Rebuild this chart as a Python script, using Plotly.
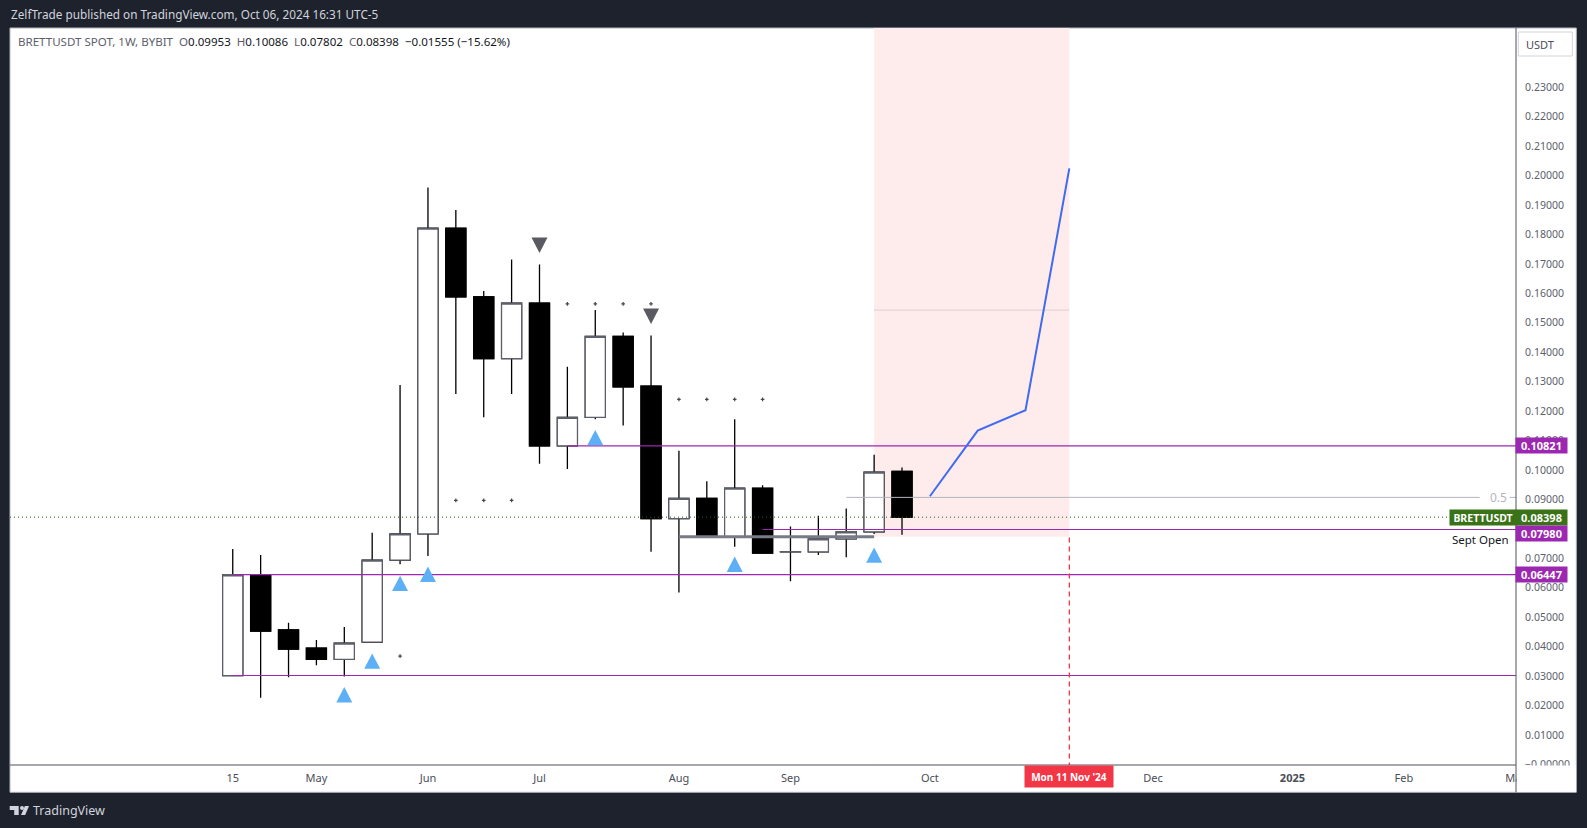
import plotly.graph_objects as go

# ---------- data ----------
dates = ["2024-04-15","2024-04-22","2024-04-29","2024-05-06","2024-05-13","2024-05-20","2024-05-27",
         "2024-06-03","2024-06-10","2024-06-17","2024-06-24","2024-07-01","2024-07-08","2024-07-15",
         "2024-07-22","2024-07-29","2024-08-05","2024-08-12","2024-08-19","2024-08-26","2024-09-02",
         "2024-09-09","2024-09-16","2024-09-23","2024-09-30"]
opens  = [.0302,.0644,.0457,.0395,.0357,.0416,.0694,.0783,.1821,.1588,.1378,.1567,.1082,.1179,.1454,.1285,
          .0835,.0904,.0773,.0938,.0722,.0722,.0766,.0790,.09953]
highs  = [.0732,.0711,.0481,.0423,.0467,.0787,.1289,.1959,.1883,.1608,.1715,.1698,.1351,.1543,.1467,.1457,
          .1065,.0962,.1172,.0948,.0808,.0845,.0869,.1052,.10086]
lows   = [.0300,.0227,.0296,.0337,.0299,.0414,.0680,.0708,.1258,.1179,.1258,.1021,.1003,.1172,.1151,.0722,
          .0584,.0772,.0739,.0717,.0622,.0711,.0704,.0783,.07802]
closes = [.0644,.0453,.0392,.0357,.0412,.0694,.0783,.1821,.1588,.1378,.1567,.1082,.1179,.1454,.1282,.0835,
          .0904,.0773,.0938,.0718,.0723,.0766,.0790,.0993,.08398]

tri_up_x = ["2024-05-13","2024-05-20","2024-05-27","2024-06-03","2024-07-15","2024-08-19","2024-09-23"]
tri_up_y = [.0237,.0351,.0615,.0646,.1110,.0680,.0711]
tri_dn_x = ["2024-07-01","2024-07-29"]
tri_dn_y = [.1763,.1522]
dot_x = ["2024-05-27","2024-06-10","2024-06-17","2024-06-24","2024-07-08","2024-07-15","2024-07-22","2024-07-29",
         "2024-08-05","2024-08-12","2024-08-19","2024-08-26"]
dot_y = [.0368,.0897,.0897,.0897,.1564,.1564,.1564,.1564,.1240,.1240,.1240,.1240]

path_x = ["2024-10-07","2024-10-19","2024-10-31","2024-11-11"]
path_y = [.0911,.1134,.1203,.2024]

x_end = "2025-03-03 03:00"
x_start = "2024-02-19 02:00"
levels = [(.10821,"2024-07-08"),(.07980,"2024-08-26"),(.06447,"2024-04-15"),(.03020,"2024-04-15")]
current_price = .08398
gray_band = .0773
faint_level = .1543
fib_level = .0907
event_start = "2024-09-23"
event_end = "2024-11-11"
y_ticks = [i/100 for i in range(0,24)]
x_tickvals = ["2024-04-15","2024-05-06","2024-06-03","2024-07-01","2024-08-05","2024-09-02","2024-10-07",
              "2024-12-02","2025-01-06","2025-02-03","2025-03-03"]
x_ticktext = ["15","May","Jun","Jul","Aug","Sep","Oct","Dec","<b>2025</b>","Feb","Mar"]

# ---------- layout geometry ----------
W,H = 1587,828
L,R,T,B = 10.3,1515.7,28,765
PR = 1576; PB = 792.3
FONT = "Noto Sans"
def px(x): return (x-L)/(R-L)
def py(y): return (B-y)/(B-T)
def rect(x0,y0,x1,y1,fill,line=None,layer="below",w=1):
    return dict(type="rect",xref="paper",yref="paper",x0=px(x0),x1=px(x1),y0=py(y0),y1=py(y1),
                fillcolor=fill,line=dict(color=line or fill,width=w if line else 0),layer=layer)
def text(x,y,s,color="#131722",size=12,anchor="left",**kw):
    return dict(xref="paper",yref="paper",x=px(x),y=py(y),text=s,showarrow=False,xanchor=anchor,yanchor="middle",
                font=dict(family=FONT,size=size,color=color),**kw)
def tri(x,y,path,color):
    return dict(type="path",xref="x",yref="y",xsizemode="pixel",ysizemode="pixel",xanchor=x,yanchor=y,
                path=path,fillcolor=color,line=dict(width=0),layer="above")

fig = go.Figure()
def hline(x0,x1,y,color,width=1,dash=None):
    fig.add_trace(go.Scatter(x=[x0,x1],y=[y,y],mode="lines",line=dict(color=color,width=width,dash=dash),hoverinfo="skip"))

# behind the candles
for v,start in levels:
    hline(start,x_end,v,"#9c27b0" if v>.0301 else "#8e3a9e",1.1)
hline("2024-08-05","2024-09-23",gray_band,"#787b86",3)
hline(event_start,event_end,faint_level,"#dccfd0")
hline("2024-09-16","2025-02-22",fib_level,"#b2b5be")
hline("2025-03-01 12:00",x_end,fib_level,"#b2b5be")

# wicks + bodies
fig.add_trace(go.Candlestick(x=dates,open=opens,high=highs,low=lows,close=closes,whiskerwidth=0,
    increasing=dict(line=dict(color="#000000",width=1.3),fillcolor="#ffffff"),
    decreasing=dict(line=dict(color="#000000",width=1.3),fillcolor="#000000"),hoverinfo="skip"))
fig.add_trace(go.Candlestick(x=dates,open=opens,close=closes,
    high=[max(o,c) for o,c in zip(opens,closes)],low=[min(o,c) for o,c in zip(opens,closes)],whiskerwidth=0,
    increasing=dict(line=dict(color="#5d606b",width=1.2),fillcolor="#ffffff"),
    decreasing=dict(line=dict(color="#000000",width=1.2),fillcolor="#000000"),hoverinfo="skip"))

# on top
hline(x_start,x_end,current_price,"#2f5a1a",1,"1px,3px")
fig.add_trace(go.Scatter(x=path_x,y=path_y,mode="lines",line=dict(color="#3f6bf2",width=2),hoverinfo="skip"))
fig.add_trace(go.Scatter(x=[event_end,event_end],y=[-.001,gray_band],mode="lines",
                         line=dict(color="#f23645",width=1.3,dash="5px,4px"),hoverinfo="skip"))
fig.add_trace(go.Scatter(x=dot_x,y=dot_y,mode="markers",hoverinfo="skip",
                         marker=dict(symbol="cross",size=3,color="#444650")))

shapes = [
    rect(L,T,PR,PB,"#ffffff","#b2b5be"),
    dict(type="rect",xref="x",yref="paper",x0=event_start,x1=event_end,y0=0,y1=1,fillcolor="#feecec",line=dict(width=0),layer="below"),
    dict(type="rect",xref="x",yref="y",x0=event_start,x1=event_end,y0=-.001,y1=gray_band,fillcolor="#ffffff",line=dict(width=0),layer="below"),
    rect(R+.5,B+.5,PR-.5,PB-.5,"#ffffff",layer="above"),
    dict(type="line",xref="paper",yref="paper",x0=0,x1=px(R),y0=0,y1=0,line=dict(color="#50535e",width=1),layer="above"),
    dict(type="line",xref="paper",yref="paper",x0=1,x1=1,y0=1,y1=py(PB),line=dict(color="#50535e",width=1),layer="above"),
    dict(type="rect",xref="paper",yref="paper",x0=px(1518),x1=px(1572),y0=py(32),y1=py(56),fillcolor="#ffffff",
         line=dict(color="#d1d4dc",width=1),layer="above"),
    # TradingView mark
    rect(10,806,19,810,"#d1d4dc",layer="above"),
    rect(14.5,810,19,815,"#d1d4dc",layer="above"),
    dict(type="circle",xref="paper",yref="paper",x0=px(20.3),x1=px(24.3),y0=py(806),y1=py(810),fillcolor="#d1d4dc",line=dict(width=0),layer="above"),
    dict(type="path",xref="paper",yref="paper",fillcolor="#d1d4dc",line=dict(width=0),layer="above",
         path=f"M{px(25.2)},{py(806)} L{px(29.3)},{py(806)} L{px(25.5)},{py(815)} L{px(21.3)},{py(815)} Z"),
]
shapes += [tri(x,y,"M-8,-7.7 L8,-7.7 L0,7.7 Z","#5db0f5") for x,y in zip(tri_up_x,tri_up_y)]
shapes += [tri(x,y,"M-8,7.7 L8,7.7 L0,-7.7 Z","#5a5b62") for x,y in zip(tri_dn_x,tri_dn_y)]

G="#5d606b"; D="#131722"
header = (f'<span style="color:{G}">BRETTUSDT SPOT, 1W, BYBIT&nbsp;&nbsp;O</span><span style="color:{D}">0.09953</span>'
          f'<span style="color:{G}">&nbsp;&nbsp;H</span><span style="color:{D}">0.10086</span>'
          f'<span style="color:{G}">&nbsp;&nbsp;L</span><span style="color:{D}">0.07802</span>'
          f'<span style="color:{G}">&nbsp;&nbsp;C</span><span style="color:{D}">0.08398&nbsp;&nbsp;−0.01555 (−15.62%)</span>')

def tag(label,yc,color):
    return text(1541,yc,f"<b>{label}</b>",color="#ffffff",size=11,anchor="center",bgcolor=color,width=51,height=15,borderpad=0)

annotations = [
    text(9,14,"ZelfTrade published on TradingView.com, Oct 06, 2024 16:31 UTC-5",color="#d1d4dc",size=11.75),
    text(16,41.5,header,size=11.55),
    text(31.5,810.5,"TradingView",color="#d1d4dc",size=12.5),
    text(1540,44,"USDT",color="#4a4d57",size=11,anchor="center"),
    text(1498,497,"0.5",color="#b2b5be",size=12,anchor="center"),
    tag("0.10821",445.5,"#9c27b0"),
    tag("0.06447",574.5,"#9c27b0"),
    tag("0.08398",517.5,"#3a7218"),
    tag("0.07980",533,"#9c27b0"),
    text(1483,517.5,"<b>BRETTUSDT</b>",color="#ffffff",size=10.5,anchor="center",bgcolor="#3a7218",width=66,height=15,borderpad=0),
    text(1480.5,539,"Sept Open",color="#131722",size=11.5,anchor="center"),
    dict(xref="x",yref="paper",x=event_end,y=py(776.5),text="<b>Mon 11 Nov '24</b>",showarrow=False,xanchor="center",yanchor="middle",
         font=dict(family=FONT,size=10,color="#ffffff"),bgcolor="#f23645",width=88,height=21,borderpad=0),
]

fig.update_layout(
    width=W,height=H,autosize=False,showlegend=False,
    margin=dict(l=L,r=W-R,t=T,b=H-B,pad=0),
    paper_bgcolor="#1e222d",plot_bgcolor="rgba(0,0,0,0)",
    boxmode="overlay",boxgap=0.28,boxgroupgap=0,
    shapes=shapes,annotations=annotations,
    xaxis=dict(type="date",range=[x_start,x_end],tickmode="array",tickvals=x_tickvals,ticktext=x_ticktext,
               showgrid=False,zeroline=False,rangeslider=dict(visible=False),showline=False,
               ticks="outside",ticklen=3,tickcolor="rgba(0,0,0,0)",tickangle=0,
               tickfont=dict(family=FONT,size=11,color="#4a4d57")),
    yaxis=dict(side="right",range=[-.00017,.25009],tickmode="array",tickvals=y_ticks,
               ticktext=["−0.00000" if v==0 else ("" if v==.08 else f"{v:.5f}") for v in y_ticks],
               showgrid=False,zeroline=False,showline=False,ticks="outside",ticklen=6,tickcolor="rgba(0,0,0,0)",
               tickfont=dict(family=FONT,size=10.5,color="#5d606b")),
)
fig.write_html("out.html",config=dict(displayModeBar=False),
               post_script="document.body.style.margin='0';document.body.style.overflow='hidden';")
